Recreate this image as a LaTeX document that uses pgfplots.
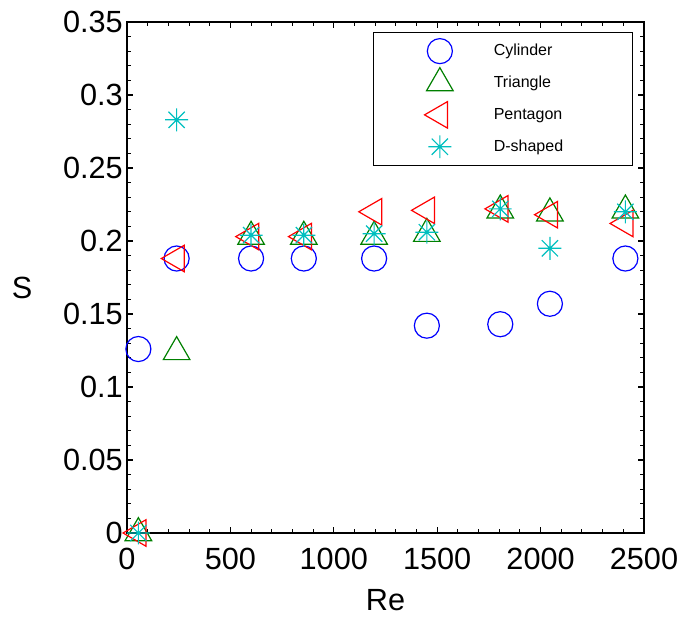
\documentclass[border=0pt]{standalone}
\usepackage{pgfplots}
\pgfplotsset{compat=1.18}
\usepackage{fontspec}
\setmainfont{Liberation Sans}
\definecolor{mblue}{rgb}{0,0,1}
\definecolor{mgreen}{rgb}{0,0.5,0}
\definecolor{mred}{rgb}{1,0,0}
\definecolor{mcyan}{rgb}{0,0.75,0.75}
\pgfdeclareplotmark{ast8}{%
  \pgfpathmoveto{\pgfqpoint{-\pgfplotmarksize}{0pt}}%
  \pgfpathlineto{\pgfqpoint{\pgfplotmarksize}{0pt}}%
  \pgfpathmoveto{\pgfqpoint{0pt}{-\pgfplotmarksize}}%
  \pgfpathlineto{\pgfqpoint{0pt}{\pgfplotmarksize}}%
  \pgfpathmoveto{\pgfqpoint{-0.707\pgfplotmarksize}{-0.707\pgfplotmarksize}}%
  \pgfpathlineto{\pgfqpoint{0.707\pgfplotmarksize}{0.707\pgfplotmarksize}}%
  \pgfpathmoveto{\pgfqpoint{-0.707\pgfplotmarksize}{0.707\pgfplotmarksize}}%
  \pgfpathlineto{\pgfqpoint{0.707\pgfplotmarksize}{-0.707\pgfplotmarksize}}%
  \pgfusepathqstroke}
\begin{document}
\begin{tikzpicture}
\begin{axis}[
  scale only axis,
  width=387.75pt, height=383.25pt,
  xmin=0, xmax=2500, ymin=0, ymax=0.35,
  xtick={0,500,1000,1500,2000,2500},
  ytick={0,0.05,0.1,0.15,0.2,0.25,0.3,0.35},
  yticklabels={0,0.05,0.1,0.15,0.2,0.25,0.3,0.35},
  scaled y ticks=false, scaled x ticks=false,
  /pgf/number format/1000 sep={},
  minor x tick num=4, minor y tick num=4,
  tick align=inside,
  major tick length=4.5pt, minor tick length=3pt,
  axis line style={line width=0.9pt},
  every tick/.style={line width=0.8pt, black},
  /pgf/number format/assume math mode=true,
  tick label style={font=\fontsize{23}{27}\selectfont},
  xticklabel style={inner sep=0pt, anchor=north, yshift=-11.25pt},
  yticklabel style={inner sep=0pt, anchor=east, xshift=-3pt},
  xlabel={Re}, ylabel={S},
  label style={font=\fontsize{23}{27}\selectfont},
  xlabel style={at={(axis description cs:0.5,0)}, anchor=center, yshift=-50.25pt},
  ylabel style={rotate=-90, at={(axis description cs:0,0.48)}, anchor=center, xshift=-78.75pt},
  clip=false,
  legend style={at={(axis description cs:1,1)}, anchor=north east, xshift=-8.25pt, yshift=-7.5pt,
    draw=black, line width=0.8pt,
    font=\fontsize{12}{14}\selectfont, inner sep=2pt, row sep=0pt},
  legend cell align=left,
  legend image code/.code={%
    \path (-47.5pt,-11.5pt) (38pt,11.5pt);
    \draw[#1] plot coordinates {(0pt,0pt)};},
]
\addplot[only marks, mblue, mark=o, mark size=9.4pt, line width=0.9pt] coordinates {
 (55,0.126) (240,0.188) (600,0.188) (855,0.188) (1195,0.188)
 (1450,0.142) (1805,0.143) (2045,0.157) (2410,0.188)};
\addplot[only marks, mgreen, mark=triangle, mark size=11.5pt, line width=0.9pt] coordinates {
 (55,0) (240,0.124) (600,0.203) (855,0.203) (1195,0.203)
 (1450,0.205) (1805,0.221) (2045,0.219) (2410,0.221)};
\addplot[only marks, mred, mark=triangle, mark size=11.5pt, mark options={rotate=90}, line width=0.9pt] coordinates {
 (55,0) (240,0.188) (600,0.203) (855,0.203) (1195,0.220)
 (1450,0.221) (1805,0.222) (2045,0.218) (2410,0.212)};
\addplot[only marks, mcyan, mark=ast8, mark size=8.6pt, line width=0.9pt] coordinates {
 (55,0) (240,0.283) (600,0.204) (855,0.204) (1195,0.205)
 (1450,0.206) (1805,0.222) (2045,0.195) (2410,0.220)};
\legend{\makebox[100pt][l]{Cylinder},\makebox[100pt][l]{Triangle},\makebox[100pt][l]{Pentagon},\makebox[100pt][l]{D-shaped}}
\end{axis}
\pgfresetboundingbox
\path ([shift={(-95.25pt,-66.75pt)}]current axis.south west) rectangle ([shift={(33.75pt,16.5pt)}]current axis.north east);
\end{tikzpicture}
\end{document}
